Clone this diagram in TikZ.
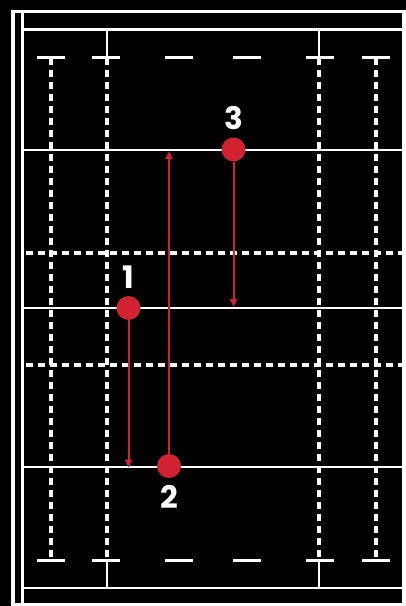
\documentclass[tikz,border=0pt]{standalone}
\usepackage{fontspec}
\newfontfamily\numfont{Poppins}
\usepackage{xcolor}
\definecolor{cPitch}{HTML}{000000}
\definecolor{cLine}{HTML}{FFFFFF}
\definecolor{cRun}{HTML}{D12231}
\usepackage{tikz}
\usetikzlibrary{positioning,arrows.meta}
\tikzset{
  pitch-edge/.style={draw=cLine,line width=3.8pt},
  pitch-line/.style={draw=cLine,line width=2.1pt},
  pitch-dash/.style={draw=cLine,line width=3.2pt,dash pattern=on 7pt off 5pt},
  pitch-tick/.style={draw=cLine,line width=2.4pt},
  player/.style={circle,fill=cRun,draw=none,minimum size=24pt,inner sep=0pt},
  player-num/.style={text=cLine,inner sep=0pt,font=\numfont\bfseries\fontsize{31}{31}\selectfont},
  run/.style={-{Triangle[length=8pt,width=7pt]},line width=2pt,draw=cRun},
}

\begin{document}
\begin{tikzpicture}[x=1pt,y=-1pt,node distance=6pt]
  \fill[cPitch] (0,0) rectangle (406,606);
  \useasboundingbox (0,0) rectangle (406,606);
  % frame
  \draw[pitch-edge] (13,11.5) rectangle (404,605);
  \draw[pitch-line] (22.5,11.5) -- (22.5,606);
  \draw[pitch-line] (22.5,29.5) -- (404,29.5);
  \draw[pitch-line] (22.5,588) -- (404,588);
  % solid cross lines
  \foreach \y in {150,308,467}
    \draw[pitch-line] (22.5,\y) -- (404,\y);
  % dashed cross lines
  \foreach \y in {253,365}
    \draw[pitch-dash] (26,\y) -- (402,\y);
  % dashed long lines
  \foreach \x in {51,107,319,376}
    \draw[pitch-dash] (\x,57.5) -- (\x,560.5);
  % short solid ends
  \foreach \x in {107,319} {
    \draw[pitch-line] (\x,29.5) -- (\x,57.5);
    \draw[pitch-line] (\x,560.5) -- (\x,588);
  }
  % ticks
  \foreach \x in {51,106,179,247,320,376} {
    \draw[pitch-tick] (\x-14,57.5) -- (\x+14,57.5);
    \draw[pitch-tick] (\x-14,560.5) -- (\x+14,560.5);
  }

  \node[player] (p1) at (128.5,308) {};
  \node[player] (p2) at (169,466) {};
  \node[player] (p3) at (233.5,149.5) {};
  \node[player-num,above=7pt of p1] (n1) {1};
  \node[player-num,below=7pt of p2] (n2) {2};
  \node[player-num,above=7pt of p3] (n3) {3};

  \coordinate (e1) at (128.5,467.5);
  \coordinate (e2) at (169,151);
  \coordinate (e3) at (233.5,307);
  \draw[run] (p1) -- (e1);
  \draw[run] (p2) -- (e2);
  \draw[run] (p3) -- (e3);
\end{tikzpicture}
\end{document}
